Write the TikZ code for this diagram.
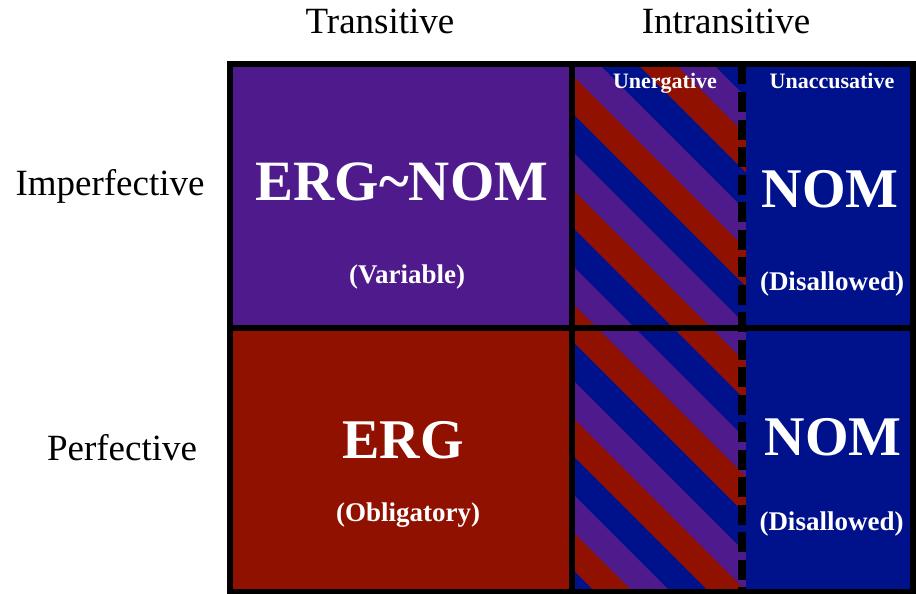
\documentclass[tikz,border=0pt]{standalone}
\usepackage{fontspec}
\setmainfont{Liberation Serif}
\definecolor{cpurple}{RGB}{78,26,140}
\definecolor{cred}{RGB}{144,17,0}
\definecolor{cblue}{RGB}{0,17,140}
\tikzset{
  hdr/.style={anchor=base, inner sep=0pt, font=\fontsize{37}{40}\selectfont},
  big/.style={anchor=base, inner sep=0pt, text=white, font=\fontsize{56}{60}\selectfont\bfseries},
  sub/.style={anchor=base, inner sep=0pt, text=white, font=\fontsize{27}{30}\selectfont\bfseries},
  tiny/.style={anchor=base, inner sep=0pt, text=white, font=\fontsize{22}{24}\selectfont\bfseries},
  frameline/.style={line width=6pt, black},
}
\begin{document}
\begin{tikzpicture}[x=1pt,y=-1pt]
\useasboundingbox (0,0) rectangle (916,594);
% cell fills
\fill[cpurple] (230,64.5) rectangle (572,328);
\fill[cred] (230,328) rectangle (572,591.5);
\fill[cblue] (746,64.5) rectangle (915,591.5);
% striped column
\begin{scope}
  \clip (572,64.5) rectangle (746,591.5);
  \fill[cpurple] (572,64.5) rectangle (746,591.5);
  \foreach \k in {-2,...,5}{
    \pgfmathsetmacro{\cr}{-497+114*\k}
    \pgfmathsetmacro{\cb}{-459+114*\k}
    \fill[cred] (560,560+\cr) -- (760,760+\cr) -- (760,798+\cr) -- (560,598+\cr) -- cycle;
    \fill[cblue] (560,560+\cb) -- (760,760+\cb) -- (760,798+\cb) -- (560,598+\cb) -- cycle;
  }
\end{scope}
% dashed divider
\coordinate (dtop) at (742,64.5);
\coordinate (dbot) at (742,591.5);
\draw[line width=7.5pt, black, dash pattern=on 20pt off 7.5pt] (dtop) -- (dbot);
% frame and dividers
\coordinate (tl) at (230,64.5);
\coordinate (br) at (912.5,591.5);
\coordinate (vt) at (572,64.5);
\coordinate (vb) at (572,591.5);
\coordinate (hl) at (230,328);
\coordinate (hr) at (912.5,328);
\draw[frameline] (tl) rectangle (br);
\draw[frameline] (vt) -- (vb);
\draw[frameline] (hl) -- (hr);
% headers
\node[hdr] (trans) at (380,34) {Transitive};
\node[hdr] (intrans) at (726,34) {Intransitive};
\node[hdr] (imperf) at (110,195) {Imperfective};
\node[hdr] (perf) at (122,460) {Perfective};
% cell texts
\node[tiny] (unerg) at (665,88.5) {Unergative};
\node[tiny] (unacc) at (832,88.5) {Unaccusative};
\node[big, font=\fontsize{57}{60}\selectfont\bfseries] (ergnom) at (402,200) {ERG\textasciitilde NOM};
\node[sub] (var) at (407,283) {(Variable)};
\node[big] (erg) at (403,458) {ERG};
\node[sub] (obl) at (408,521) {(Obligatory)};
\node[big] (nom1) at (830,207) {NOM};
\node[sub] (dis1) at (832,290) {(Disallowed)};
\node[big] (nom2) at (833,455) {NOM};
\node[sub] (dis2) at (831.5,530) {(Disallowed)};
\end{tikzpicture}
\end{document}
